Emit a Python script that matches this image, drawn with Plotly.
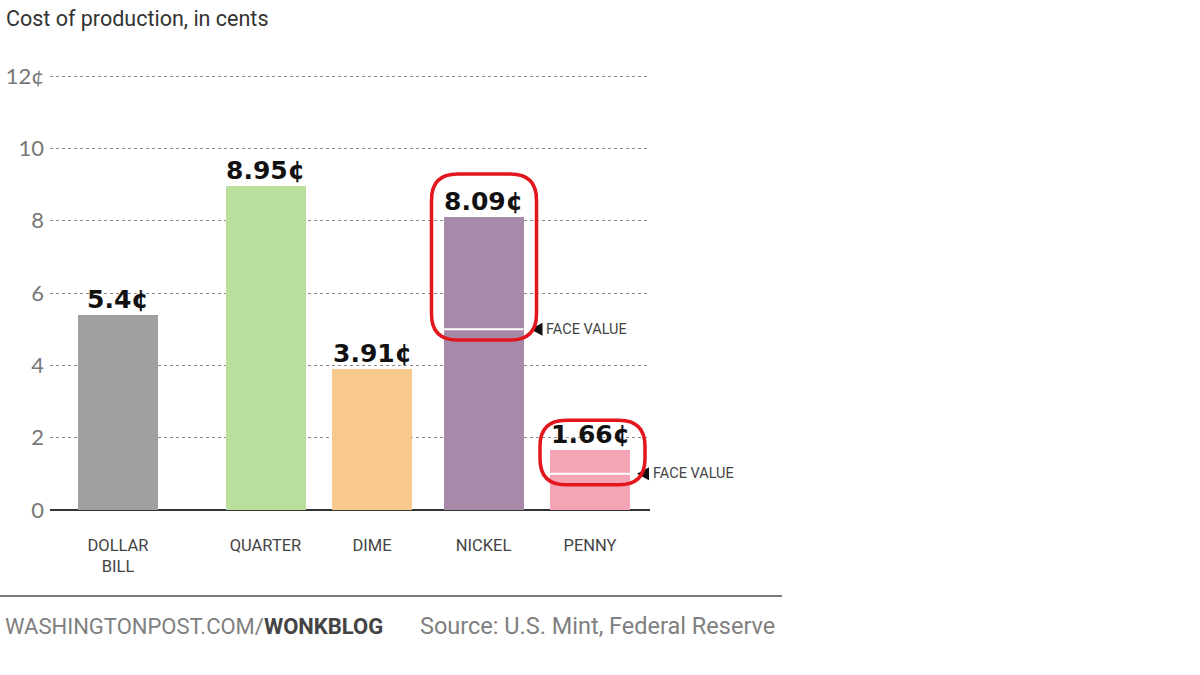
import plotly.graph_objects as go

# ---- data ----
categories = ["DOLLAR<br>BILL", "QUARTER", "DIME", "NICKEL", "PENNY"]
costs = [5.4, 8.95, 3.91, 8.09, 1.66]
face_values = [None, None, None, 5, 1]
y_ticks = [0, 2, 4, 6, 8, 10, 12]
y_tick_text = ["0", "2", "4", "6", "8", "10", "12¢"]

# ---- layout / style (positions, not data) ----
X_MAX = 6.0
Y_MAX = 12.03
x_pos = [0.68, 2.155, 3.22, 4.335, 5.40]
bar_w = 0.8
colors = ["#a0a0a0", "#b8df9c", "#f8c98e", "#a78aaa", "#f4a4b4"]
# highlight boxes: (index, left pad, right pad, top pad above value, bottom pad below face)
highlights = [(3, 0.12, 0.13, 1.2, 0.3), (4, 0.10, 0.15, 0.82, 0.3)]


def px(x):
    """data x -> paper x"""
    return x / X_MAX


fig = go.Figure()
fig.add_trace(go.Bar(
    x=x_pos, y=costs, width=bar_w, marker=dict(color=colors, line=dict(width=0)),
    hoverinfo="skip", showlegend=False,
))

# value labels
for xp, v in zip(x_pos, costs):
    fig.add_annotation(x=xp, y=v, text=f"{v:g}¢", showarrow=False, yanchor="bottom",
                       yshift=-1, font=dict(family="DejaVu Sans", size=25, color="#111111",
                                            weight="bold"))

# face value lines, triangles, labels
for xp, fv in zip(x_pos, face_values):
    if fv is None:
        continue
    fig.add_shape(type="line", x0=xp - bar_w / 2, x1=xp + bar_w / 2, y0=fv, y1=fv,
                  line=dict(color="white", width=2), layer="above")
    tx = xp + bar_w / 2 + 0.07
    tri = (f"M {px(tx)},{fv} L {px(tx + 0.12)},{fv + 0.18} "
           f"L {px(tx + 0.12)},{fv - 0.18} Z")
    fig.add_shape(type="path", xref="paper", yref="y", path=tri,
                  fillcolor="#111111", line=dict(width=0), layer="above")
    fig.add_annotation(xref="paper", x=px(xp + bar_w / 2 + 0.205), y=fv, text="FACE VALUE",
                       showarrow=False, xanchor="left", yanchor="middle",
                       font=dict(family="Roboto", size=14.5, color="#444444"))

# red rounded highlight boxes
rx, ry = 0.26, 0.72
for i, lp, rp, tp, bp in highlights:
    x0 = x_pos[i] - bar_w / 2 - lp
    x1 = x_pos[i] + bar_w / 2 + rp
    y1 = costs[i] + tp
    y0 = face_values[i] - bp
    path = (f"M {x0+rx},{y1} L {x1-rx},{y1} Q {x1},{y1} {x1},{y1-ry} "
            f"L {x1},{y0+ry} Q {x1},{y0} {x1-rx},{y0} L {x0+rx},{y0} "
            f"Q {x0},{y0} {x0},{y0+ry} L {x0},{y1-ry} Q {x0},{y1} {x0+rx},{y1} Z")
    fig.add_shape(type="path", path=path, line=dict(color="#e3161d", width=3.5),
                  layer="above")

# title
fig.add_annotation(xref="paper", yref="paper", x=-0.077, y=1.131, text="Cost of production, in cents",
                   showarrow=False, xanchor="left", yanchor="middle",
                   font=dict(family="Roboto", size=21.5, color="#333333"))

# footer rule and texts
fig.add_shape(type="line", xref="paper", yref="paper", x0=-0.0833, x1=1.22, y0=-0.1977, y1=-0.1977,
              line=dict(color="#7a7a7a", width=2))
fig.add_annotation(xref="paper", yref="paper", x=-0.078, y=-0.2667,
                   text="WASHINGTONPOST.COM/<b style='color:#444444'>WONKBLOG</b>",
                   showarrow=False, xanchor="left", yanchor="middle",
                   font=dict(family="Roboto", size=22, color="#808080"))
fig.add_annotation(xref="paper", yref="paper", x=0.613, y=-0.2667,
                   text="Source: U.S. Mint, Federal Reserve",
                   showarrow=False, xanchor="left", yanchor="middle",
                   font=dict(family="Roboto", size=23.5, color="#808080"))

fig.update_layout(
    width=1200, height=675,
    margin=dict(l=50, r=550, t=75, b=165),
    paper_bgcolor="white", plot_bgcolor="white",
    bargap=0,
    xaxis=dict(range=[0, X_MAX], tickvals=x_pos, ticktext=categories, showgrid=False,
               zeroline=False, showline=False, ticks="outside", ticklen=20,
               tickcolor="rgba(0,0,0,0)", fixedrange=True, automargin=False,
               tickfont=dict(family="Roboto", size=16.5, color="#444444")),
    yaxis=dict(range=[0, Y_MAX], tickvals=y_ticks, ticktext=y_tick_text, showgrid=True,
               gridcolor="#8c8c8c", griddash="dot", gridwidth=1,
               zeroline=True, zerolinecolor="#333333", zerolinewidth=2,
               showline=False, ticks="", ticklabelstandoff=5, automargin=False,
               fixedrange=True,
               tickfont=dict(family="Lato", size=22, color="#777777")),
)

fig.write_html("out.html", config={"displayModeBar": False},
               post_script="document.body.style.margin='0';")
